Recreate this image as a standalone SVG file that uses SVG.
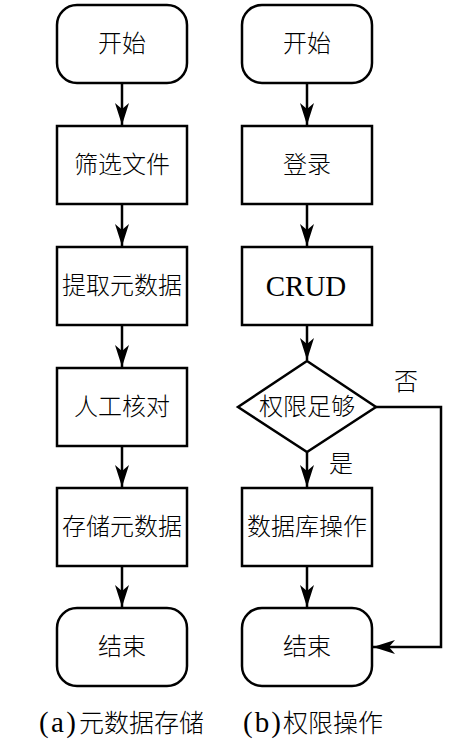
<svg xmlns="http://www.w3.org/2000/svg" width="470" height="749" viewBox="0 0 470 749">
<style>
.n{fill:#fff;stroke:#000;stroke-width:2.5}
.t{font-family:"Liberation Serif","Noto Sans CJK SC",serif;font-size:24px;font-weight:300;text-anchor:middle;dominant-baseline:central;fill:#000}
.cap{font-family:"Liberation Serif","Noto Sans CJK SC",serif;font-size:25px;font-weight:300;fill:#000}
.lat{font-size:29px;font-weight:400}
.c{fill:none;stroke:#000;stroke-width:2.5}
</style>
<defs>
<marker id="ah" markerWidth="24" markerHeight="16" refX="22" refY="7" orient="auto" markerUnits="userSpaceOnUse">
<path d="M0,0 L22,7 L0,14 L6,7 Z" fill="#000"/>
</marker>
</defs>
<rect width="470" height="749" fill="#fff"/>
<g id="connectors">
<line class="c" x1="122" y1="83" x2="122" y2="125" marker-end="url(#ah)"/>
<line class="c" x1="122" y1="204" x2="122" y2="246" marker-end="url(#ah)"/>
<line class="c" x1="122" y1="325" x2="122" y2="367" marker-end="url(#ah)"/>
<line class="c" x1="122" y1="446" x2="122" y2="487" marker-end="url(#ah)"/>
<line class="c" x1="122" y1="566" x2="122" y2="607" marker-end="url(#ah)"/>
<line class="c" x1="307" y1="83" x2="307" y2="125" marker-end="url(#ah)"/>
<line class="c" x1="307" y1="204" x2="307" y2="246" marker-end="url(#ah)"/>
<line class="c" x1="307" y1="325" x2="307" y2="360" marker-end="url(#ah)"/>
<line class="c" x1="307" y1="452" x2="307" y2="487" marker-end="url(#ah)"/>
<line class="c" x1="307" y1="566" x2="307" y2="607" marker-end="url(#ah)"/>
<polyline class="c" points="376,407 441,407 441,647 373,647" marker-end="url(#ah)"/>
<text class="t" x="406" y="382">否</text>
<text class="t" x="341" y="464">是</text>
</g>
<g id="a-start"><rect class="n" x="57" y="5" width="130" height="78" rx="20"/><text class="t" x="122" y="44">开始</text></g>
<g id="a-filter"><rect class="n" x="57" y="126" width="130" height="78"/><text class="t" x="122" y="165">筛选文件</text></g>
<g id="a-extract"><rect class="n" x="57" y="247" width="130" height="78"/><text class="t" x="122" y="286">提取元数据</text></g>
<g id="a-check"><rect class="n" x="57" y="368" width="130" height="78"/><text class="t" x="122" y="407">人工核对</text></g>
<g id="a-store"><rect class="n" x="57" y="488" width="130" height="78"/><text class="t" x="122" y="527">存储元数据</text></g>
<g id="a-end"><rect class="n" x="57" y="608" width="130" height="78" rx="20"/><text class="t" x="122" y="647">结束</text></g>
<g id="b-start"><rect class="n" x="242" y="5" width="130" height="78" rx="20"/><text class="t" x="307" y="44">开始</text></g>
<g id="b-login"><rect class="n" x="242" y="126" width="130" height="78"/><text class="t" x="307" y="165">登录</text></g>
<g id="b-crud"><rect class="n" x="242" y="247" width="130" height="78"/><text class="t lat" x="306" y="286">CRUD</text></g>
<g id="b-perm"><polygon class="n" points="307,361 376,407 307,452 238,407"/><text class="t" x="307" y="407">权限足够</text></g>
<g id="b-db"><rect class="n" x="242" y="488" width="130" height="78"/><text class="t" x="307" y="527">数据库操作</text></g>
<g id="b-end"><rect class="n" x="242" y="608" width="130" height="78" rx="20"/><text class="t" x="307" y="647">结束</text></g>
<text class="cap" y="732"><tspan class="lat" x="39" textLength="37" lengthAdjust="spacing">(a)</tspan><tspan x="79">元数据存储</tspan></text>
<text class="cap" y="732"><tspan class="lat" x="243" textLength="38" lengthAdjust="spacing">(b)</tspan><tspan x="283">权限操作</tspan></text>
</svg>
